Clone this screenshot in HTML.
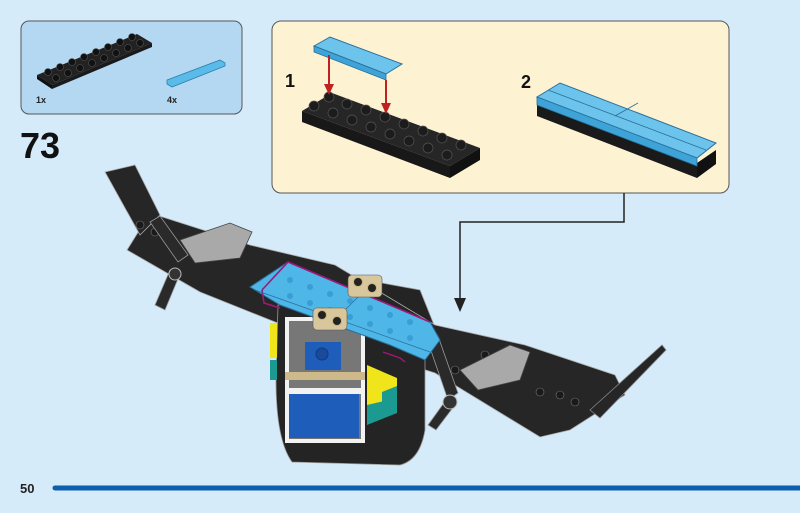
<!DOCTYPE html>
<html><head><meta charset="utf-8"><style>
html,body{margin:0;padding:0;background:#d5ebfa;}
svg{display:block}
text{font-family:"Liberation Sans",sans-serif;}
</style></head><body>
<svg width="800" height="513" viewBox="0 0 800 513" xmlns="http://www.w3.org/2000/svg">
<rect width="800" height="513" fill="#d5ebfa"/>
<!-- parts box -->
<rect x="21" y="21" width="221" height="93" rx="8" fill="#b5d8f2" stroke="#555" stroke-width="1"/>
<polygon points="37,75 137,34 152,43 52,85" fill="#222"/>
<polygon points="37,75 52,85 52,89 37,79" fill="#111"/>
<polygon points="52,85 152,43 152,47 52,89" fill="#1a1a1a"/>
<g fill="#111" stroke="#555" stroke-width="0.6">
<circle cx="48" cy="72" r="3.5"/><circle cx="60" cy="67" r="3.5"/><circle cx="72" cy="62" r="3.5"/><circle cx="84" cy="57" r="3.5"/><circle cx="96" cy="52" r="3.5"/><circle cx="108" cy="47" r="3.5"/><circle cx="120" cy="42" r="3.5"/><circle cx="132" cy="37" r="3.5"/>
<circle cx="56" cy="78" r="3.5"/><circle cx="68" cy="73" r="3.5"/><circle cx="80" cy="68" r="3.5"/><circle cx="92" cy="63" r="3.5"/><circle cx="104" cy="58" r="3.5"/><circle cx="116" cy="53" r="3.5"/><circle cx="128" cy="48" r="3.5"/><circle cx="140" cy="43" r="3.5"/>
</g>
<polygon points="167,80 220,60 225,63 225,66 172,87 167,84" fill="#5bbbe8" stroke="#2a7fb0" stroke-width="0.8"/>
<text x="36" y="103" font-size="9" font-weight="bold" fill="#222">1x</text>
<text x="167" y="103" font-size="9" font-weight="bold" fill="#222">4x</text>
<text x="20" y="158" font-size="36" font-weight="bold" fill="#111">73</text>
<!-- callout -->
<rect x="272" y="21" width="457" height="172" rx="9" fill="#fdf3d3" stroke="#555" stroke-width="1"/>
<polyline points="624,193 624,222 460,222 460,300" fill="none" stroke="#222" stroke-width="1.5"/>
<polygon points="454,298 466,298 460,312" fill="#222"/>
<text x="285" y="87" font-size="18" font-weight="bold" fill="#111">1</text>
<text x="521" y="88" font-size="18" font-weight="bold" fill="#111">2</text>
<!-- step1 plate -->
<polygon points="302,111 332,93 480,148 450,166" fill="#262626"/>
<polygon points="302,111 450,166 450,178 302,122" fill="#181818"/>
<polygon points="450,166 480,148 480,160 450,178" fill="#111"/>
<g fill="#1c1c1c" stroke="#555" stroke-width="0.7">
<circle cx="329" cy="97" r="5"/><circle cx="347" cy="104" r="5"/><circle cx="366" cy="110" r="5"/><circle cx="385" cy="117" r="5"/><circle cx="404" cy="124" r="5"/><circle cx="423" cy="131" r="5"/><circle cx="442" cy="138" r="5"/><circle cx="461" cy="145" r="5"/>
<circle cx="314" cy="106" r="5"/><circle cx="333" cy="113" r="5"/><circle cx="352" cy="120" r="5"/><circle cx="371" cy="127" r="5"/><circle cx="390" cy="134" r="5"/><circle cx="409" cy="141" r="5"/><circle cx="428" cy="148" r="5"/><circle cx="447" cy="155" r="5"/>
</g>
<polygon points="314,46 330,37 402,64 386,74" fill="#6cc4ec" stroke="#2a6f9a" stroke-width="1"/>
<polygon points="314,46 386,74 386,80 314,52" fill="#3ea4d8" stroke="#2a6f9a" stroke-width="0.8"/>
<line x1="329" y1="55" x2="329" y2="86" stroke="#c02020" stroke-width="2"/>
<polygon points="324,84 334,84 329,95" fill="#c02020"/>
<line x1="386" y1="80" x2="386" y2="105" stroke="#c02020" stroke-width="2"/>
<polygon points="381,103 391,103 386,114" fill="#c02020"/>
<!-- step2 -->
<polygon points="537,103 697,163 697,178 537,116" fill="#1a1a1a"/>
<polygon points="697,163 716,150 716,164 697,178" fill="#111"/>
<polygon points="537,97 560,83 716,143 697,158" fill="#6cc4ec" stroke="#2a6f9a" stroke-width="1"/>
<polygon points="537,97 697,158 697,166 537,105" fill="#3ea4d8" stroke="#2a6f9a" stroke-width="0.8"/>
<line x1="548" y1="90" x2="706" y2="150" stroke="#2a6f9a" stroke-width="0.8"/>
<line x1="615" y1="116" x2="638" y2="103" stroke="#2a6f9a" stroke-width="0.8"/>
<!-- fuselage back -->
<polygon points="290,300 300,268 420,290 440,340 420,350" fill="#242424" stroke="#999" stroke-width="0.8"/>
<!-- wing -->
<polygon points="150,213 250,245 335,265 435,325 525,345 615,375 625,395 570,430 540,437 435,373 275,322 200,292 127,250" fill="#262626" stroke="#aaa" stroke-width="0.8"/>
<polygon points="105,172 135,165 160,215 140,235" fill="#262626" stroke="#aaa" stroke-width="0.8"/>
<polygon points="590,410 662,345 666,350 600,418" fill="#262626" stroke="#888" stroke-width="0.8"/>
<g fill="#1a1a1a" stroke="#777" stroke-width="0.6">
<circle cx="140" cy="225" r="4"/><circle cx="155" cy="232" r="4"/><circle cx="300" cy="292" r="4"/><circle cx="285" cy="300" r="4"/><circle cx="312" cy="300" r="4"/>
<circle cx="485" cy="355" r="4"/><circle cx="500" cy="365" r="4"/><circle cx="440" cy="362" r="4"/><circle cx="455" cy="370" r="4"/><circle cx="560" cy="395" r="4"/><circle cx="575" cy="402" r="4"/><circle cx="540" cy="392" r="4"/>
</g>
<!-- gray blocks -->
<polygon points="180,240 230,223 252,232 240,258 195,263" fill="#a9a9a9" stroke="#444" stroke-width="0.8"/>
<polygon points="460,370 510,345 530,352 520,380 478,390" fill="#a9a9a9" stroke="#444" stroke-width="0.8"/>
<!-- propellers -->
<polygon points="150,222 160,216 188,255 178,262" fill="#2a2a2a" stroke="#999" stroke-width="0.8"/>
<polygon points="155,305 170,270 180,274 165,310" fill="#2a2a2a" stroke="#999" stroke-width="0.8"/>
<circle cx="175" cy="274" r="6" fill="#333" stroke="#bbb"/>
<polygon points="428,342 438,336 458,393 448,400" fill="#2a2a2a" stroke="#999" stroke-width="0.8"/>
<polygon points="428,425 446,400 455,405 436,430" fill="#2a2a2a" stroke="#999" stroke-width="0.8"/>
<circle cx="450" cy="402" r="7" fill="#333" stroke="#bbb"/>
<!-- fuselage -->
<path d="M278,305 L365,310 L425,345 L425,430 Q420,460 400,465 L292,462 Q276,440 276,380 Z" fill="#242424" stroke="#999" stroke-width="0.8"/>
<rect x="285" y="317" width="80" height="126" fill="#f2f2f2"/>
<rect x="289" y="321" width="72" height="118" fill="#777"/>
<rect x="305" y="342" width="36" height="28" fill="#1f5dbb"/>
<circle cx="322" cy="354" r="6" fill="#1a4a9a" stroke="#0e3a80"/>
<rect x="285" y="372" width="80" height="8" fill="#cdb98a"/>
<rect x="285" y="388" width="80" height="6" fill="#f2f2f2"/>
<rect x="289" y="394" width="70" height="44" fill="#1f5dbb"/>
<rect x="270" y="323" width="7" height="35" fill="#f0e51a"/>
<rect x="270" y="360" width="7" height="20" fill="#1a9a90"/>
<polygon points="367,365 397,378 397,413 367,420" fill="#f0e51a"/>
<polygon points="382,392 397,386 397,400 382,405" fill="#1a9a90"/>
<polygon points="367,405 397,398 397,413 367,425" fill="#1a9a90"/>
<!-- transparent blue -->
<polygon points="250,287 288,262 430,322 440,340 425,360 390,345 280,305" fill="#4fb6e8" stroke="#2a6f9a" stroke-width="1"/>
<polyline points="262,290 288,262 430,322" fill="none" stroke="#a0187a" stroke-width="1.6"/>
<polyline points="262,290 264,303 280,308" fill="none" stroke="#a0187a" stroke-width="1.6"/>
<polyline points="383,352 400,358 405,362" fill="none" stroke="#a0187a" stroke-width="1.4"/>
<line x1="255" y1="290" x2="430" y2="352" stroke="#2a6f9a" stroke-width="0.7"/>
<line x1="345" y1="310" x2="365" y2="290" stroke="#2a6f9a" stroke-width="0.7"/>
<g fill="#2a8fc8" opacity="0.6">
<circle cx="290" cy="280" r="3"/><circle cx="310" cy="287" r="3"/><circle cx="330" cy="294" r="3"/><circle cx="350" cy="301" r="3"/><circle cx="370" cy="308" r="3"/><circle cx="390" cy="315" r="3"/><circle cx="410" cy="322" r="3"/>
<circle cx="290" cy="296" r="3"/><circle cx="310" cy="303" r="3"/><circle cx="330" cy="310" r="3"/><circle cx="350" cy="317" r="3"/><circle cx="370" cy="324" r="3"/><circle cx="390" cy="331" r="3"/><circle cx="410" cy="338" r="3"/>
</g>
<!-- tan studs -->
<rect x="348" y="275" width="34" height="22" rx="4" fill="#d8c69c" stroke="#555" stroke-width="0.6"/>
<circle cx="358" cy="282" r="4.5" fill="#222" stroke="#c9b37a"/><circle cx="372" cy="288" r="4.5" fill="#222" stroke="#c9b37a"/>
<rect x="313" y="308" width="34" height="22" rx="4" fill="#d8c69c" stroke="#555" stroke-width="0.6"/>
<circle cx="322" cy="315" r="4.5" fill="#222" stroke="#c9b37a"/><circle cx="337" cy="321" r="4.5" fill="#222" stroke="#c9b37a"/>
<!-- page number & bar -->
<text x="20" y="493" font-size="13" font-weight="bold" fill="#222">50</text>
<line x1="55" y1="488" x2="800" y2="488" stroke="#0c5eaf" stroke-width="5" stroke-linecap="round"/>
</svg>
</body></html>
